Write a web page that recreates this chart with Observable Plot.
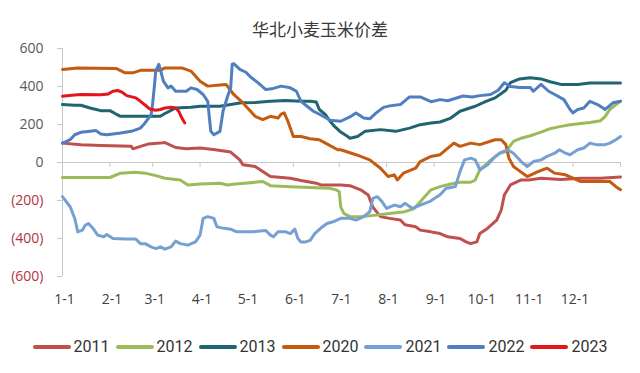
<!DOCTYPE html>
<html><head><meta charset="utf-8">
<script src="https://cdn.jsdelivr.net/npm/d3@7"></script>
<script src="https://cdn.jsdelivr.net/npm/@observablehq/plot@0.6"></script>
<style>
body{margin:0;background:#fff;width:640px;height:373px;overflow:hidden;position:relative;}
#title{position:absolute;left:0;top:19px;width:640px;line-height:20px;text-align:center;font-family:"Noto Sans CJK SC",sans-serif;font-size:17px;color:#3a3a3a;}
#chart{padding-top:30px;}
#chart svg{display:block;}
#legend{height:53px;display:flex;justify-content:center;align-items:center;padding-left:6px;font-family:Roboto,sans-serif;font-size:16px;color:#333;}
.item{display:flex;align-items:center;margin-right:6px;}
.sw{width:38px;height:4px;border-radius:2px;margin-right:3px;}
</style></head><body>
<div id="chart"></div>
<div id="legend"></div>
<div id="title">华北小麦玉米价差</div>
<script>
// day of year (0 = Jan 1), spread value
const s2011 = [[0,102],[12,94],[25,90],[45,85],[46,72],[51,85],[56,97],[64,102],[67,105],[74,79],[81,72],[90,76],[100,67],[110,55],[116,14],[118,-12],[126,-21],[131,-48],[136,-74],[149,-83],[156,-95],[166,-109],[169,-118],[182,-118],[188,-122],[195,-144],[200,-171],[203,-235],[208,-285],[214,-294],[221,-303],[224,-328],[231,-338],[234,-356],[241,-365],[247,-374],[252,-391],[260,-400],[264,-418],[267,-427],[271,-418],[273,-374],[278,-347],[284,-303],[287,-250],[289,-171],[293,-118],[300,-92],[305,-92],[313,-83],[326,-90],[339,-83],[352,-83],[365,-76]];
const s2012 = [[0,-79],[31,-79],[38,-56],[48,-51],[54,-56],[61,-69],[67,-83],[77,-92],[82,-118],[90,-113],[103,-109],[108,-118],[113,-113],[123,-106],[131,-100],[136,-122],[149,-127],[162,-132],[175,-136],[179,-144],[181,-153],[182,-233],[184,-268],[188,-285],[195,-285],[205,-277],[214,-268],[224,-259],[230,-242],[234,-206],[241,-144],[247,-127],[254,-113],[260,-104],[267,-104],[270,-92],[273,-39],[279,5],[286,49],[290,58],[295,111],[300,128],[306,141],[313,160],[319,178],[326,190],[332,199],[339,205],[345,211],[352,220],[355,243],[358,279],[362,305],[365,322]];
const s2013 = [[0,305],[8,301],[12,301],[18,287],[25,273],[31,273],[35,255],[38,243],[64,243],[67,258],[70,270],[74,287],[84,291],[90,296],[103,296],[110,305],[117,314],[126,316],[136,322],[146,326],[156,322],[162,322],[166,318],[168,279],[172,252],[175,217],[178,190],[182,160],[186,140],[188,128],[193,137],[198,164],[208,173],[218,164],[227,181],[234,199],[241,208],[247,213],[254,234],[260,270],[270,296],[277,322],[283,340],[290,380],[293,420],[299,440],[306,446],[313,440],[319,425],[326,411],[337,411],[345,419],[358,419],[365,419]];
const s2020 = [[0,490],[10,497],[35,495],[41,472],[46,472],[51,485],[64,485],[67,498],[78,498],[84,481],[90,428],[95,402],[103,408],[107,411],[112,358],[117,322],[120,296],[126,243],[131,226],[136,243],[141,234],[143,255],[145,261],[147,226],[151,137],[156,137],[162,125],[168,120],[172,102],[180,67],[182,67],[192,41],[201,14],[208,-30],[213,-74],[217,-65],[219,-92],[223,-56],[231,-30],[234,5],[241,32],[247,41],[256,102],[260,85],[267,102],[273,94],[283,120],[287,120],[290,94],[292,23],[295,-21],[298,-39],[304,-74],[311,-48],[317,-30],[322,-56],[329,-65],[339,-100],[350,-100],[358,-100],[362,-127],[365,-143]];
const s2021 = [[0,-180],[5,-233],[8,-294],[10,-365],[13,-356],[15,-329],[17,-321],[20,-347],[23,-382],[27,-391],[29,-379],[33,-400],[41,-403],[48,-403],[51,-427],[54,-427],[58,-444],[61,-453],[64,-444],[67,-456],[71,-444],[74,-414],[77,-427],[82,-435],[87,-418],[90,-382],[92,-294],[95,-285],[99,-294],[101,-338],[104,-344],[110,-351],[114,-365],[119,-365],[125,-365],[129,-361],[133,-358],[136,-382],[138,-391],[141,-365],[146,-365],[149,-374],[152,-351],[154,-400],[156,-418],[159,-418],[162,-410],[165,-374],[169,-345],[173,-321],[177,-312],[182,-294],[188,-294],[192,-303],[197,-285],[201,-259],[203,-189],[206,-180],[209,-206],[212,-242],[217,-224],[221,-233],[224,-215],[229,-242],[234,-224],[240,-206],[247,-170],[251,-136],[257,-127],[260,-48],[263,14],[267,23],[270,14],[273,-39],[278,-12],[282,23],[286,49],[291,67],[295,49],[300,5],[304,-21],[308,5],[313,14],[317,32],[322,49],[325,67],[329,49],[332,41],[337,67],[341,76],[345,102],[349,94],[355,94],[358,102],[362,120],[365,137]];
const s2022 = [[0,102],[5,120],[8,146],[12,159],[18,164],[22,168],[25,150],[29,146],[38,155],[45,164],[51,181],[54,208],[58,252],[59,314],[60,393],[61,481],[63,517],[64,490],[66,428],[69,393],[71,402],[74,375],[81,375],[84,393],[88,384],[92,358],[95,322],[97,164],[99,146],[103,164],[105,270],[108,349],[110,393],[111,517],[112,520],[116,490],[120,475],[123,450],[128,419],[133,384],[138,390],[143,402],[149,393],[153,375],[156,322],[160,296],[164,270],[169,250],[175,222],[182,217],[188,240],[192,261],[197,234],[201,230],[205,260],[210,290],[214,298],[221,305],[227,345],[234,345],[241,320],[247,331],[252,325],[262,350],[268,345],[273,352],[280,358],[285,380],[289,420],[293,400],[299,395],[306,395],[308,375],[313,411],[318,375],[322,358],[328,331],[332,279],[334,261],[337,279],[341,287],[345,322],[350,305],[355,279],[360,314],[365,322]];
const s2023 = [[0,349],[6,354],[12,358],[25,356],[30,361],[33,375],[36,379],[39,370],[42,352],[48,340],[51,322],[55,296],[57,282],[61,275],[64,279],[67,287],[71,291],[74,287],[76,270],[78,235],[80,208]];

const years = ["2011","2012","2013","2020","2021","2022","2023"];
const colors = ["#C0504D","#9BBB59","#1F6470","#C55A11","#76A0D4","#4F7FBF","#E3161C"];
const monthDays = [0,31,59,90,120,151,181,212,243,273,304,334];
const monthLabels = ["1-1","2-1","3-1","4-1","5-1","6-1","7-1","8-1","9-1","10-1","11-1","12-1"];
const yearEnd = 365;
const yTicksPos = [0,200,400,600];
const yTicksNeg = [-200,-400,-600];

const series = [s2011,s2012,s2013,s2020,s2021,s2022,s2023];
const rows = series.flatMap((s,i)=>s.map(([day,value])=>({year:years[i],day,value})));

const axisGray = "#c8c8c8";
const chart = Plot.plot({
  width:640, height:290, marginTop:18, marginBottom:44, marginLeft:62, marginRight:20,
  style:{fontFamily:"'Open Sans',sans-serif", fontSize:"14px", background:"transparent"},
  x:{domain:[0,yearEnd]},
  y:{domain:[-600,600]},
  color:{domain:years, range:colors},
  marks:[
    Plot.ruleX([0],{y1:-600,y2:600,stroke:axisGray}),
    Plot.ruleY([0],{stroke:axisGray}),
    Plot.ruleX([...monthDays,yearEnd],{y1:0,y2:0,insetBottom:-5,stroke:axisGray}),
    Plot.axisY({ticks:yTicksPos,tickSize:5,tickPadding:14,stroke:axisGray,fill:"#595959",tickFormat:d=>String(d),label:null}),
    Plot.axisY({ticks:yTicksNeg,tickSize:5,tickPadding:14,stroke:axisGray,fill:"#B3343F",tickFormat:d=>`(${-d})`,label:null}),
    Plot.axisX({ticks:monthDays,tickSize:0,tickPadding:18,dx:2,fill:"#404040",tickFormat:d=>monthLabels[monthDays.indexOf(d)],label:null}),
    Plot.line(rows,{x:"day",y:"value",z:"year",stroke:"year",strokeWidth:3,strokeLinejoin:"round",strokeLinecap:"round"})
  ]
});
document.getElementById("chart").appendChild(chart);

const legend = document.getElementById("legend");
years.forEach((y,i)=>{
  const it = document.createElement("div"); it.className="item";
  const sw = document.createElement("div"); sw.className="sw"; sw.style.background=colors[i];
  const tx = document.createElement("span"); tx.textContent=y;
  it.appendChild(sw); it.appendChild(tx); legend.appendChild(it);
});
</script>
</body></html>
